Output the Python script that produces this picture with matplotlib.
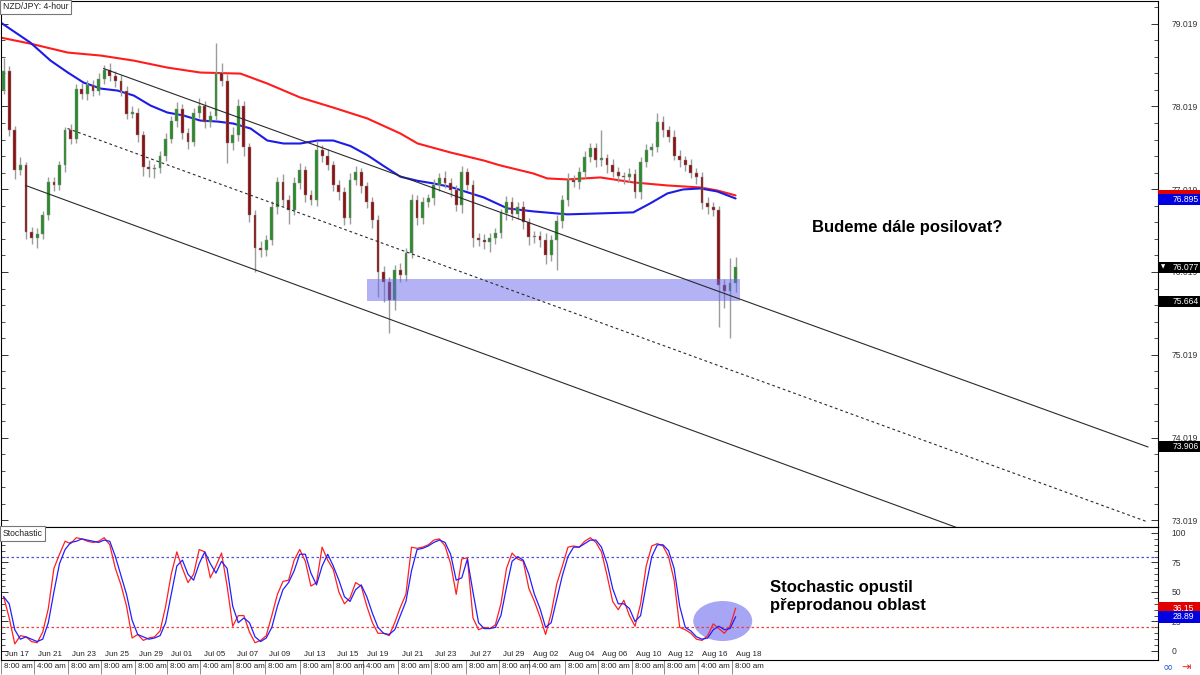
import matplotlib
matplotlib.use('Agg')
import matplotlib.pyplot as plt
import numpy as np
from matplotlib.patches import Rectangle, Ellipse
from matplotlib.transforms import blended_transform_factory as blend

# ---------------- data ----------------
first_open = 78.22
close = [78.452, 77.728, 77.245, 77.306, 76.497, 76.425, 76.473, 76.702, 77.101, 77.064,
         77.306, 77.728, 77.631, 78.234, 78.174, 78.283, 78.210, 78.355, 78.464, 78.391,
         78.331, 78.210, 77.933, 77.945, 77.668, 77.282, 77.257, 77.269, 77.426, 77.631,
         77.848, 77.993, 77.692, 77.595, 77.945, 78.029, 77.836, 77.909, 78.427, 78.331,
         77.571, 77.668, 78.029, 77.523, 76.702, 76.304, 76.280, 76.401, 76.799, 77.101,
         76.883, 76.763, 77.089, 77.245, 76.944, 76.883, 77.487, 77.426, 77.306, 77.064,
         76.980, 76.666, 77.125, 77.221, 77.052, 76.859, 76.642, 76.015, 75.894, 75.677,
         76.039, 75.979, 76.244, 76.883, 76.666, 76.859, 76.908, 77.064, 77.149, 77.089,
         77.004, 76.823, 77.221, 77.064, 76.425, 76.401, 76.377, 76.425, 76.485, 76.727,
         76.859, 76.715, 76.799, 76.618, 76.437, 76.449, 76.401, 76.220, 76.401, 76.630,
         76.883, 77.125, 77.101, 77.221, 77.402, 77.511, 77.366, 77.390, 77.306, 77.221,
         77.173, 77.161, 77.197, 76.980, 77.342, 77.487, 77.523, 77.836, 77.728, 77.655,
         77.426, 77.366, 77.306, 77.209, 77.161, 76.847, 76.799, 76.763, 75.858, 75.786,
         75.882, 76.077]
upper_wick = [0.15, 0.05, 0.06, 0.10, 0.04, 0.06, 0.08, 0.05, 0.07, 0.06,
              0.05, 0.04, 0.08, 0.06, 0.07, 0.06, 0.05, 0.07, 0.05, 0.08,
              0.06, 0.07, 0.05, 0.08, 0.06, 0.05, 0.09, 0.06, 0.05, 0.07,
              0.06, 0.08, 0.05, 0.07, 0.06, 0.09, 0.05, 0.06, 0.36, 0.12,
              0.08, 0.10, 0.08, 0.06, 0.05, 0.07, 0.09, 0.06, 0.08, 0.07,
              0.10, 0.06, 0.08, 0.09, 0.06, 0.07, 0.12, 0.06, 0.08, 0.05,
              0.07, 0.06, 0.09, 0.08, 0.06, 0.05, 0.07, 0.06, 0.08, 0.07,
              0.06, 0.09, 0.07, 0.08, 0.06, 0.07, 0.05, 0.08, 0.06, 0.09,
              0.07, 0.06, 0.08, 0.05, 0.07, 0.06, 0.08, 0.07, 0.06, 0.05,
              0.08, 0.07, 0.06, 0.08, 0.05, 0.07, 0.06, 0.09, 0.06, 0.08,
              0.07, 0.09, 0.06, 0.07, 0.08, 0.06, 0.07, 0.34, 0.06, 0.08,
              0.07, 0.05, 0.08, 0.06, 0.07, 0.08, 0.06, 0.10, 0.07, 0.06,
              0.08, 0.07, 0.06, 0.08, 0.07, 0.06, 0.08, 0.07, 0.05, 0.08,
              0.31, 0.12]
lower_wick = [0.05, 0.07, 0.10, 0.06, 0.08, 0.07, 0.12, 0.06, 0.05, 0.07,
              0.06, 0.08, 0.07, 0.05, 0.06, 0.08, 0.07, 0.05, 0.06, 0.07,
              0.08, 0.06, 0.07, 0.05, 0.08, 0.10, 0.09, 0.10, 0.06, 0.07,
              0.05, 0.08, 0.07, 0.09, 0.06, 0.07, 0.08, 0.06, 0.05, 0.07,
              0.24, 0.08, 0.07, 0.10, 0.08, 0.29, 0.08, 0.07, 0.06, 0.08,
              0.07, 0.16, 0.06, 0.07, 0.08, 0.06, 0.07, 0.08, 0.06, 0.07,
              0.09, 0.08, 0.07, 0.06, 0.08, 0.07, 0.09, 0.30, 0.24, 0.40,
              0.12, 0.08, 0.07, 0.06, 0.08, 0.07, 0.06, 0.08, 0.07, 0.06,
              0.08, 0.07, 0.09, 0.06, 0.10, 0.07, 0.08, 0.12, 0.07, 0.06,
              0.08, 0.07, 0.06, 0.08, 0.09, 0.07, 0.08, 0.10, 0.07, 0.36,
              0.08, 0.07, 0.06, 0.08, 0.07, 0.06, 0.08, 0.07, 0.09, 0.06,
              0.07, 0.08, 0.06, 0.07, 0.08, 0.06, 0.07, 0.06, 0.08, 0.07,
              0.06, 0.08, 0.07, 0.06, 0.08, 0.07, 0.08, 0.07, 0.50, 0.20,
              0.57, 0.10]

ma_red_x = [-0.5, 4.8, 11.5, 17.4, 23.3, 29.3, 35.2, 42.4, 47.2, 53.1, 59.0, 65.1, 71.0,
            74.1, 80.0, 85.9, 88.9, 94.8, 97.3, 100.9, 106.8, 112.7, 118.8, 124.7, 127.7, 131.0]
ma_red_y = [78.850, 78.777, 78.669, 78.633, 78.572, 78.488, 78.428, 78.415, 78.295, 78.126,
            78.005, 77.873, 77.692, 77.571, 77.462, 77.366, 77.306, 77.209, 77.149, 77.137,
            77.161, 77.101, 77.064, 77.040, 77.004, 76.944]
ma_blue_x = [-0.5, 4.8, 8.4, 11.5, 14.3, 17.4, 20.4, 23.3, 26.3, 29.3, 32.2, 35.2, 38.3,
             41.1, 44.2, 47.2, 50.1, 53.1, 56.2, 59.0, 62.1, 65.1, 68.0, 71.0, 74.1, 76.9,
             80.0, 85.9, 90.2, 94.8, 100.9, 106.8, 112.7, 115.7, 118.8, 121.6, 124.7, 127.7, 131.0]
ma_blue_y = [79.031, 78.789, 78.572, 78.428, 78.307, 78.234, 78.210, 78.150, 78.029, 77.945,
             77.909, 77.848, 77.836, 77.812, 77.752, 77.607, 77.571, 77.571, 77.607, 77.607,
             77.540, 77.430, 77.300, 77.170, 77.120, 77.089, 77.046, 76.920, 76.787, 76.751,
             76.715, 76.727, 76.739, 76.847, 76.968, 77.016, 77.028, 76.992, 76.907]

# trend channel anchor points (candle index, price)
chan_upper = [(17.9, 78.476), (204.8, 73.906)]
chan_mid = [(11.45, 77.752), (204.8, 72.999)]
chan_lower = [(3.94, 77.064), (172.0, 72.897)]
zone_x = (65.1, 131.8)
zone_y = (75.665, 75.931)

stoch_k = [46, 28, 6, 13, 12, 8, 7, 16, 36, 70,
           82, 93, 91, 96, 95, 93, 92, 93, 96, 90,
           70, 56, 38, 11, 14, 9, 11, 12, 17, 38,
           65, 84, 70, 58, 65, 86, 84, 62, 72, 83,
           55, 21, 30, 30, 16, 7, 9, 13, 30, 48,
           59, 60, 77, 86, 76, 55, 58, 88, 77, 69,
           50, 40, 45, 58, 55, 38, 24, 15, 15, 13,
           24, 37, 48, 88, 87, 88, 90, 94, 95, 89,
           74, 48, 78, 79, 28, 18, 20, 19, 22, 40,
           70, 83, 78, 76, 53, 42, 29, 14, 32, 57,
           72, 88, 89, 88, 93, 96, 92, 84, 64, 42,
           35, 43, 30, 21, 40, 72, 89, 91, 89, 80,
           60, 20, 18, 15, 10, 9, 13, 23, 19, 15,
           21, 36.15]
stoch_d = [46, 40, 18, 10, 12, 10, 8, 10, 24, 50,
           74, 86, 92, 93, 95, 94, 93, 92, 94, 93,
           80, 64, 48, 26, 14, 12, 10, 11, 13, 24,
           48, 72, 77, 65, 60, 74, 84, 74, 66, 76,
           70, 38, 24, 28, 24, 12, 8, 11, 20, 38,
           52, 58, 68, 82, 82, 66, 56, 72, 82, 72,
           60, 46, 42, 52, 56, 46, 32, 20, 15, 14,
           18, 30, 42, 68, 86, 87, 89, 92, 94, 92,
           82, 60, 62, 78, 50, 24, 19, 19, 20, 30,
           54, 76, 80, 77, 65, 48, 36, 20, 24, 44,
           64, 80, 88, 88, 91, 94, 94, 88, 74, 53,
           40, 40, 36, 25, 30, 56, 80, 90, 90, 85,
           70, 38, 20, 17, 12, 10, 11, 18, 21, 18,
           19, 28.89]

tick_pos = [-0.5, 5.4, 11.6, 17.4, 23.6, 29.3, 35.1, 41.0, 46.7, 53.0, 58.9, 64.4,
            70.5, 76.4, 82.7, 88.6, 94.1, 100.5, 106.4, 112.5, 118.1, 124.2, 130.4]
date_labels = ['Jun 17', 'Jun 21', 'Jun 23', 'Jun 25', 'Jun 29', 'Jul 01', 'Jul 05', 'Jul 07',
               'Jul 09', 'Jul 13', 'Jul 15', 'Jul 19', 'Jul 21', 'Jul 23', 'Jul 27', 'Jul 29',
               'Aug 02', 'Aug 04', 'Aug 06', 'Aug 10', 'Aug 12', 'Aug 16', 'Aug 18']
time_labels = ['8:00 am', '4:00 am', '8:00 am', '8:00 am', '8:00 am', '8:00 am', '4:00 am',
               '8:00 am', '8:00 am', '8:00 am', '8:00 am', '4:00 am', '8:00 am', '8:00 am',
               '8:00 am', '8:00 am', '4:00 am', '8:00 am', '8:00 am', '8:00 am', '8:00 am',
               '4:00 am', '8:00 am']
price_ticks = [73.019, 74.019, 75.019, 76.019, 77.019, 78.019, 79.019]
stoch_ticks = [0, 25, 50, 75, 100]
# (value, text, colour); the red MA tag is almost fully hidden in the reference
tags_main = [(76.940, '', '#e00000'), (76.895, '76.895', '#0000e0'),
             (76.077, '76.077', '#000000'), (75.664, '75.664', '#000000'),
             (73.906, '73.906', '#000000')]
tags_stoch = [(36.15, '36.15', '#e00000'), (28.89, '28.89', '#0000e0')]

# ---------------- figure ----------------
plt.rcParams['font.family'] = ['Liberation Sans', 'DejaVu Sans']
W, H = 1200, 675
fig = plt.figure(figsize=(12, 6.75), dpi=100)
fig.patch.set_facecolor('white')
ax = fig.add_axes([0.0005, 1 - 527 / H, 1158 / W - 0.0005, 527 / H - 0.001])
sx = fig.add_axes([0.0005, 15 / H, 1158 / W - 0.0005, 133 / H])

XL = (-0.54, 206.6)
ax.set_xlim(*XL)
sx.set_xlim(*XL)
ax.set_ylim(72.939, 79.296)
sx.set_ylim(-7.63, 105.08)

# candles
c = np.array(close)
o = np.concatenate([[first_open], c[:-1]])
idx = np.arange(len(c))
top = np.maximum(o, c)
bot = np.minimum(o, c)
hi = top + np.array(upper_wick)
lo = bot - np.array(lower_wick)
ax.vlines(idx, lo, hi, color='#9c9c9c', lw=1.0, zorder=3)
cols = np.where(c >= o, '#2b8a2b', '#8a1212')
ax.bar(idx, np.maximum(top - bot, 0.015), bottom=bot, width=0.5, color=cols,
       edgecolor='#8f8f8f', linewidth=0.3, zorder=4)

# moving averages
ax.plot(ma_red_x, ma_red_y, color='#ff1c1c', lw=1.5, zorder=2, solid_capstyle='round')
ax.plot(ma_blue_x, ma_blue_y, color='#1c1ce6', lw=1.5, zorder=2, solid_capstyle='round')

# channel
for pts, ls in [(chan_upper, '-'), (chan_lower, '-'), (chan_mid, (0, (2.5, 2.5)))]:
    ax.plot([p[0] for p in pts], [p[1] for p in pts], color='#2a2a2a', lw=0.8, ls=ls, zorder=6)

# support zone
ax.add_patch(Rectangle((zone_x[0], zone_y[0]), zone_x[1] - zone_x[0], zone_y[1] - zone_y[0],
                       fc=(0.40, 0.40, 0.93), alpha=0.5, ec='none', zorder=5))

# stochastic
sx.add_patch(Ellipse((128.7, 25.4), 10.55, 33.9, fc='#a6a6f4', ec='none', zorder=1))
sx.axhline(80, color='#5050d8', lw=0.9, ls=(0, (2, 2)), zorder=2)
sx.axhline(20, color='#e84040', lw=0.9, ls=(0, (2, 2)), zorder=2)
sx.plot(idx, stoch_k, color='#ff2020', lw=0.9, zorder=3)
sx.plot(idx, stoch_d, color='#2020ff', lw=0.9, zorder=4)

# spines / ticks
for a in (ax, sx):
    for s in a.spines.values():
        s.set_color('black')
        s.set_linewidth(0.8)
    a.tick_params(axis='y', which='both', direction='in', left=True, right=True,
                  labelleft=False, labelright=True, labelsize=6.2, labelcolor='#333333',
                  color='#333333', pad=10)
    a.tick_params(axis='y', which='major', length=5, width=0.7)
    a.tick_params(axis='y', which='minor', length=3, width=0.6)

ax.set_yticks(price_ticks)
ax.set_yticklabels([f'{t:.3f}' for t in price_ticks])
ax.set_yticks(np.arange(72.819 + 0.2, 79.3, 0.2), minor=True)
ax.tick_params(axis='x', which='both', bottom=False, top=False, labelbottom=False)

sx.set_yticks(stoch_ticks)
sx.set_yticklabels([str(t) for t in stoch_ticks])
sx.set_yticks(np.arange(0, 101, 5), minor=True)
sx.set_xticks(tick_pos)
sx.tick_params(axis='x', which='major', direction='out', length=10, width=0.6,
               color='#777777', labelbottom=False)

for p, d, t in zip(tick_pos, date_labels, time_labels):
    sx.annotate(d, xy=(p, 0), xycoords=('data', 'axes fraction'), xytext=(4, 2),
                textcoords='offset pixels', ha='left', va='bottom', fontsize=5.8,
                color='#222222', annotation_clip=False)
    sx.annotate(t, xy=(p, 0), xycoords=('data', 'axes fraction'), xytext=(3, -3),
                textcoords='offset pixels', ha='left', va='top', fontsize=5.8,
                color='#222222', annotation_clip=False)


def tag(a, value, text, color, h_px):
    tr = blend(a.transAxes, a.transData)
    y0, y1 = a.get_ylim()
    h = h_px * (y1 - y0) / a.bbox.height
    a.add_patch(Rectangle((1.0, value - h / 2), 42 / a.bbox.width, h, transform=tr,
                          fc=color, ec='none', clip_on=False, zorder=10))
    if text:
        a.annotate(text, xy=(1.0, value), xycoords=tr, xytext=(15, 0),
                   textcoords='offset pixels', color='white', fontsize=6.2, va='center',
                   ha='left', zorder=11, annotation_clip=False)


for v, t, col in tags_main:
    tag(ax, v, t, col, 11)
for v, t, col in tags_stoch:
    tag(sx, v, t, col, 12)
ax.annotate('\u25BC', xy=(1.0, 76.077), xycoords=blend(ax.transAxes, ax.transData),
            xytext=(3, 0), textcoords='offset pixels', color='white', fontsize=4,
            va='center', ha='left', zorder=12, annotation_clip=False,
            family='DejaVu Sans')

# panel captions
ax.text(0.002, 0.997, 'NZD/JPY: 4-hour', transform=ax.transAxes, va='top', ha='left',
        fontsize=6.2, color='#222222', zorder=12,
        bbox=dict(boxstyle='square,pad=0.3', fc='white', ec='#777777', lw=0.8))
sx.text(0.002, 0.985, 'Stochastic', transform=sx.transAxes, va='top', ha='left',
        fontsize=6.2, color='#222222', zorder=12,
        bbox=dict(boxstyle='square,pad=0.3', fc='white', ec='#777777', lw=0.8))

# annotations
ax.text(144.7, 76.558, 'Budeme dále posilovat?', fontsize=12, fontweight='bold',
        va='center', ha='left', color='black', zorder=12)
sx.text(137.2, 45.8, 'Stochastic opustil\npřeprodanou oblast', fontsize=12,
        fontweight='bold', va='center', ha='left', color='black', linespacing=1.25,
        zorder=12)

# small icons bottom right
fig.text(1163 / W, 1 - 667 / H, '\u221E', color='#2a5bd7', fontsize=9, va='center',
         ha='left', family='DejaVu Sans')
fig.text(1181 / W, 1 - 667 / H, '\u21E5', color='#e02020', fontsize=8, va='center',
         ha='left', family='DejaVu Sans')

fig.savefig('out.png', dpi=100, facecolor='white')
